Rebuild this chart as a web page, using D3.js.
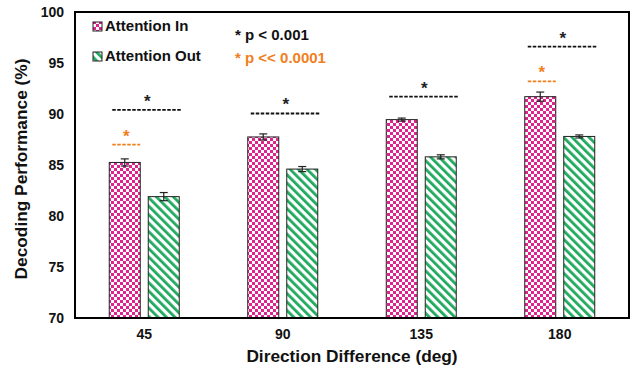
<!DOCTYPE html>
<html><head><meta charset="utf-8">
<script src="https://cdn.jsdelivr.net/npm/d3@7"></script>
<style>body{margin:0;background:#fff}svg{display:block;font-family:"Liberation Sans",Arial,sans-serif;font-weight:bold}</style>
</head><body><svg id="c" width="633" height="369"></svg>
<script>
const categories = ["45","90","135","180"];
const attentionIn = [85.25, 87.75, 89.45, 91.7];
const attentionOut = [81.9, 84.6, 85.8, 87.8];
const errIn = [0.35, 0.3, 0.15, 0.45];
const errOut = [0.4, 0.25, 0.2, 0.15];
const sigBlack = [90.4, 90.05, 91.7, 96.6];
const sigOrange = [87.0, null, null, 93.2];
const yTicks = [70,75,80,85,90,95,100];

const svg = d3.select("#c");
const m = {l:75, t:12, r:629, b:318};
const x = d3.scaleBand().domain(categories).range([m.l, m.r]).padding(0);
const y = d3.scaleLinear().domain([70,100]).range([m.b, m.t]);

const defs = svg.append("defs");
const pk = defs.append("pattern").attr("id","checker").attr("patternUnits","userSpaceOnUse").attr("width",6).attr("height",6);
pk.append("rect").attr("width",6).attr("height",6).attr("fill","#fff");
pk.append("rect").attr("width",3).attr("height",3).attr("fill","#E0228C");
pk.append("rect").attr("x",3).attr("y",3).attr("width",3).attr("height",3).attr("fill","#E0228C");
const gp = defs.append("pattern").attr("id","stripes").attr("patternUnits","userSpaceOnUse").attr("width",6).attr("height",6).attr("patternTransform","rotate(-45)");
gp.append("rect").attr("width",6).attr("height",6).attr("fill","#fff");
gp.append("rect").attr("width",2.8).attr("height",6).attr("fill","#1FAA5E");

const bw = 31, off = 4;
const cx = c => x(c) + x.bandwidth()/2;

const series = [
  {vals: attentionIn, errs: errIn, fill:"url(#checker)", dx: -off-bw},
  {vals: attentionOut, errs: errOut, fill:"url(#stripes)", dx: off}
];
series.forEach(s=>{
  svg.append("g").selectAll("rect").data(categories).join("rect")
    .attr("x", c=>cx(c)+s.dx).attr("width", bw)
    .attr("y", (c,i)=>y(s.vals[i])).attr("height",(c,i)=>y(70)-y(s.vals[i]))
    .attr("fill", s.fill).attr("stroke","#222").attr("stroke-width",1);
  const eg = svg.append("g").attr("stroke","#222").attr("stroke-width",1.2);
  categories.forEach((c,i)=>{
    const xm = cx(c)+s.dx+bw/2;
    const y1 = y(s.vals[i]+s.errs[i]), y2 = y(s.vals[i]-s.errs[i]);
    eg.append("line").attr("x1",xm).attr("x2",xm).attr("y1",y1).attr("y2",y2);
    eg.append("line").attr("x1",xm-4).attr("x2",xm+4).attr("y1",y1).attr("y2",y1);
    eg.append("line").attr("x1",xm-4).attr("x2",xm+4).attr("y1",y2).attr("y2",y2);
  });
});

categories.forEach((c,i)=>{
  const x0 = cx(c)-off-bw+3, x1 = cx(c)+off+bw+3;
  if (sigBlack[i]!=null){
    svg.append("line").attr("x1",x0).attr("x2",x1).attr("y1",y(sigBlack[i])).attr("y2",y(sigBlack[i]))
      .attr("stroke","#111").attr("stroke-width",1.8).attr("stroke-dasharray","3.5,1.5");
    svg.append("text").attr("x",(x0+x1)/2).attr("y",y(sigBlack[i])-3).attr("text-anchor","middle")
      .attr("font-size",17).attr("fill","#222").text("*");
  }
  if (sigOrange[i]!=null){
    const xo1 = cx(c)-off;
    svg.append("line").attr("x1",x0).attr("x2",xo1).attr("y1",y(sigOrange[i])).attr("y2",y(sigOrange[i]))
      .attr("stroke","#F07F1E").attr("stroke-width",1.8).attr("stroke-dasharray","3.5,1.5");
    svg.append("text").attr("x",(x0+xo1)/2).attr("y",y(sigOrange[i])-3).attr("text-anchor","middle")
      .attr("font-size",17).attr("fill","#F07F1E").text("*");
  }
});

svg.append("rect").attr("x",m.l).attr("y",m.t).attr("width",m.r-m.l).attr("height",m.b-m.t)
  .attr("fill","none").attr("stroke","#000").attr("stroke-width",2);

const ya = svg.append("g").attr("transform",`translate(${m.l},0)`)
  .call(d3.axisLeft(y).tickValues(yTicks).tickSize(0).tickPadding(11));
ya.select(".domain").remove();
ya.selectAll("text").attr("font-size",14).attr("font-family","Liberation Sans, Arial, sans-serif").attr("font-weight","bold").attr("fill","#111");
const xa = svg.append("g").attr("transform",`translate(0,${m.b})`)
  .call(d3.axisBottom(x).tickSize(0).tickPadding(11));
xa.select(".domain").remove();
xa.selectAll("text").attr("font-size",14).attr("font-family","Liberation Sans, Arial, sans-serif").attr("font-weight","bold").attr("fill","#111");

svg.append("text").attr("transform","translate(27,169) rotate(-90)").attr("text-anchor","middle")
  .attr("font-size",17.3).attr("fill","#111").text("Decoding Performance (%)");
svg.append("text").attr("x",352).attr("y",362).attr("text-anchor","middle")
  .attr("font-size",17.3).attr("fill","#111").text("Direction Difference (deg)");

const legend = [{label:"Attention In", fill:"url(#checker)", y:26},{label:"Attention Out", fill:"url(#stripes)", y:56}];
legend.forEach(l=>{
  svg.append("rect").attr("x",93).attr("y",l.y-4).attr("width",9).attr("height",9).attr("fill",l.fill).attr("stroke","#222").attr("stroke-width",1);
  svg.append("text").attr("x",105).attr("y",l.y+4.5).attr("font-size",15).attr("fill","#111").text(l.label);
});
const t1 = svg.append("text").attr("x",235).attr("y",40).attr("font-size",15).attr("fill","#111");
t1.append("tspan").text("* ");
t1.append("tspan").text("p < 0.001");
const t2 = svg.append("text").attr("x",235).attr("y",63).attr("font-size",15).attr("fill","#F07F1E");
t2.append("tspan").text("* ");
t2.append("tspan").text("p << 0.0001");
</script></body></html>
